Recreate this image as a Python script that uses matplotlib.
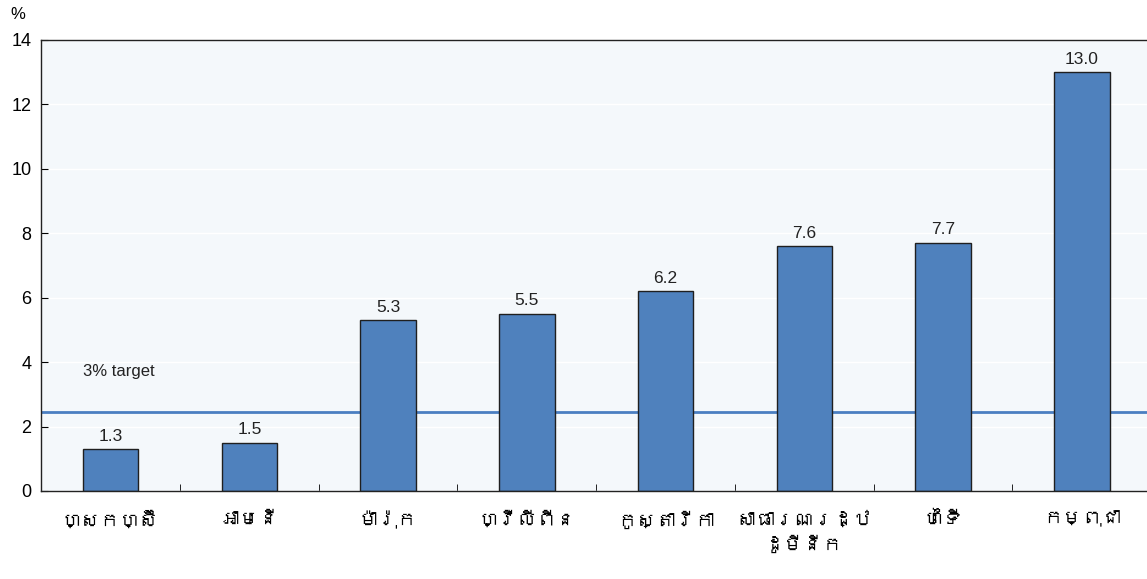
import matplotlib
matplotlib.use("Agg")
import matplotlib.pyplot as plt
from matplotlib import font_manager
from matplotlib.ft2font import FT2Font

# Données
pays = ["ហ្សកហ្ស៊ី", "អាមេនី", "ម៉ារ៉ុក", "ហ្វីលីពីន", "កូស្តារីកា",
        "សាធារណរដ្ឋ\nដូមីនីក", "ហៃទី", "កម្ពុជា"]
valeurs = [1.3, 1.5, 5.3, 5.5, 6.2, 7.6, 7.7, 13.0]
cible = 2.45
yticks = [0, 2, 4, 6, 8, 10, 12, 14]


def police_khmer():
    # chercher une police installée qui contient les caractères khmers
    for f in font_manager.fontManager.ttflist:
        try:
            if 0x1780 in FT2Font(f.fname).get_charmap():
                return f.name
        except Exception:
            pass
    return None


khmer = police_khmer()
familles = ([khmer] if khmer else []) + ["Liberation Sans", "DejaVu Sans"]
plt.rcParams["font.family"] = ["Liberation Sans", "DejaVu Sans"]

fig = plt.figure(figsize=(11.47, 5.79), dpi=100)
ax = fig.add_axes([0.036, 0.152, 0.964, 0.779])
ax.set_facecolor("#F4F8FB")

x = list(range(len(pays)))
ax.axhline(cible, color="#4A7EC1", linewidth=2, zorder=1)
barres = ax.bar(x, valeurs, width=0.4, color="#4F81BD", edgecolor="#1F1F1F",
                linewidth=1, zorder=2)

for xi, v in zip(x, valeurs):
    ax.annotate(f"{v:.1f}", (xi, v), xytext=(0, 4), textcoords="offset points",
                ha="center", va="bottom", fontsize=12.5, color="#222222")

ax.text(-0.2, 3.7, "3% target", fontsize=12, color="#222222", ha="left", va="center")

ax.set_xlim(-0.5, len(pays) - 0.53)
ax.set_ylim(0, 14)
ax.set_yticks(yticks)
ax.yaxis.grid(True, color="white", linewidth=1)
ax.set_axisbelow(True)
ax.tick_params(axis="y", direction="in", length=5, labelsize=13, pad=7)

ax.set_xticks(x)
ax.set_xticklabels(pays, fontsize=14, family=familles, linespacing=1.4)
ax.tick_params(axis="x", length=0, pad=14)
ax.set_xticks([i + 0.5 for i in x[:-1]], minor=True)
ax.tick_params(axis="x", which="minor", direction="in", length=5)

for s in ["left", "bottom", "top"]:
    ax.spines[s].set_color("#222222")
    ax.spines[s].set_linewidth(1)
ax.spines["right"].set_visible(False)

fig.text(0.009, 0.975, "%", fontsize=12, ha="left", va="center")

fig.savefig("out.png", dpi=100)
